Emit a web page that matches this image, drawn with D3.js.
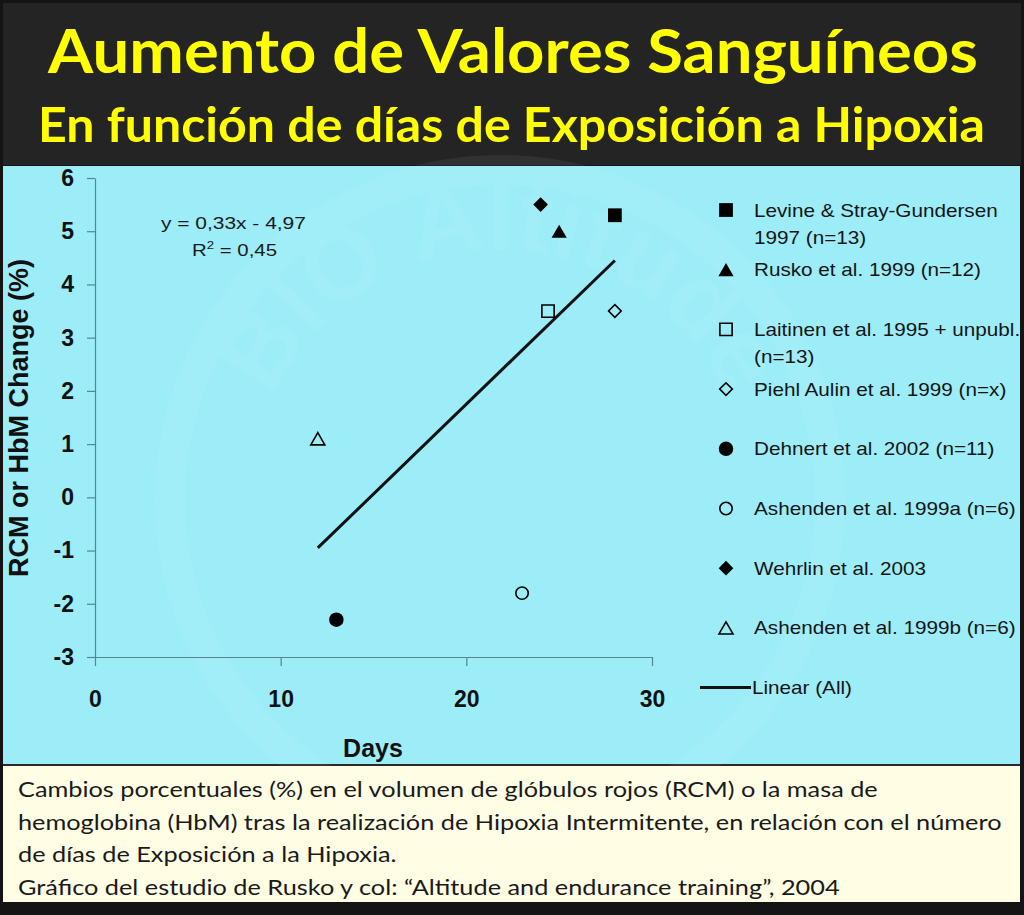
<!DOCTYPE html>
<html><head><meta charset="utf-8">
<script src="https://cdn.jsdelivr.net/npm/d3@7"></script>
<style>body{margin:0;background:#111}svg{display:block}</style>
</head><body><svg id="c" width="1024" height="915"></svg>
<script>
// ---------- data ----------
const titleLines = ["Aumento de Valores Sanguíneos", "En función de días de Exposición a Hipoxia"];
const captionLines = [
  "Cambios porcentuales (%) en el volumen de glóbulos rojos (RCM) o la masa de",
  "hemoglobina (HbM) tras la realización de Hipoxia Intermitente, en relación con el número",
  "de días de Exposición a la Hipoxia.",
  "Gráfico del estudio de Rusko y col: “Altitude and endurance training”, 2004"
];
const studyLabels = [
  ["Levine & Stray-Gundersen", "1997 (n=13)"],
  ["Rusko et al. 1999 (n=12)"],
  ["Laitinen et al. 1995 + unpubl.", "(n=13)"],
  ["Piehl Aulin et al. 1999 (n=x)"],
  ["Dehnert et al. 2002 (n=11)"],
  ["Ashenden et al. 1999a (n=6)"],
  ["Wehrlin et al. 2003"],
  ["Ashenden et al. 1999b (n=6)"]
];
const days   = [28, 25, 24.4, 28, 13, 23, 24, 12];
const change = [5.3, 5.0, 3.5, 3.5, -2.3, -1.8, 5.5, 1.1];
const markerShape  = ["square", "triangle", "square", "diamond", "circle", "circle", "diamond", "triangle"];
const markerFilled = [true, true, false, false, true, false, true, false];
const trendDays   = [12, 28];
const trendChange = [-0.95, 4.45];
const trendLabel = "Linear (All)";
const equationText = "y = 0,33x - 4,97";
const r2Value = "0,45";
const xTicks = [0, 10, 20, 30];
const yTicks = [-3, -2, -1, 0, 1, 2, 3, 4, 5, 6];
const xTitle = "Days";
const yTitle = "RCM or HbM Change (%)";

// ---------- layout ----------
const svg = d3.select("#c");
const W = 1024, H = 915;
svg.append("rect").attr("width", W).attr("height", H).attr("fill", "#141414");
svg.append("rect").attr("x", 3).attr("y", 3).attr("width", W - 6).attr("height", 162).attr("fill", "#242424");
svg.append("rect").attr("x", 3).attr("y", 166).attr("width", 1017).attr("height", 598).attr("fill", "#9cedf8");
svg.append("rect").attr("x", 3).attr("y", 766).attr("width", 1017).attr("height", 136).attr("fill", "#fffde4");
svg.append("line").attr("x1", 3).attr("x2", 1020).attr("y1", 765).attr("y2", 765).attr("stroke", "#2a2a2a").attr("stroke-width", 2);

// faint watermark
const wm = svg.append("g").attr("opacity", 0.06);
wm.append("circle").attr("cx", 500).attr("cy", 500).attr("r", 330).attr("fill", "none").attr("stroke", "#fff").attr("stroke-width", 30);
wm.append("path").attr("id", "wmArc").attr("fill", "none")
  .attr("d", d3.arc()({innerRadius: 250, outerRadius: 250, startAngle: -Math.PI * 0.6, endAngle: Math.PI * 0.6}).split("L")[0])
  .attr("transform", "translate(500,500)");
wm.append("text").attr("font-family", "Liberation Sans, Arial, sans-serif").attr("font-weight", "bold").attr("font-size", 100).attr("fill", "#fff")
  .append("textPath").attr("href", "#wmArc").attr("startOffset", "25%").attr("text-anchor", "middle").text("BIO Altitude");

function fitText(g, str, x0, baseline, width, attrs) {
  const t = g.append("text").attr("x", 0).attr("y", 0).text(str);
  for (const k in attrs) t.attr(k, attrs[k]);
  const len = t.node().getComputedTextLength();
  t.attr("transform", `translate(${x0},${baseline}) scale(${width / len},1)`);
  return len;
}

// title
const titleAttrs1 = {"font-family": "Lato, 'Open Sans', sans-serif", "font-weight": "bold", "font-size": 61, "fill": "#ffff00"};
const titleAttrs2 = {"font-family": "Lato, 'Open Sans', sans-serif", "font-weight": "bold", "font-size": 47, "fill": "#ffff00"};
fitText(svg, titleLines[0], 48, 73, 930, titleAttrs1);
fitText(svg, titleLines[1], 38, 142, 947, titleAttrs2);

// caption
const capAttrs = {"font-family": "Lato, 'Open Sans', sans-serif", "font-size": 22, "fill": "#1a1a1a"};
const probe = svg.append("text").attr("font-family", capAttrs["font-family"]).attr("font-size", capAttrs["font-size"]).text(captionLines[1]);
const capScale = 984 / probe.node().getComputedTextLength();
probe.remove();
captionLines.forEach((s, i) => {
  const t = svg.append("text").text(s);
  for (const k in capAttrs) t.attr(k, capAttrs[k]);
  t.attr("transform", `translate(18,${797 + i * 32.5}) scale(${capScale},1)`);
});

// ---------- chart ----------
const x = d3.scaleLinear().domain([0, 30]).range([95, 652]);
const y = d3.scaleLinear().domain([-3, 6]).range([657, 178]);
const axisColor = "#56858f";
const plainFmt = d => String(d);

const gy = svg.append("g").attr("transform", `translate(${x(0)},0)`)
  .call(d3.axisLeft(y).tickValues(yTicks).tickFormat(plainFmt).tickSize(8).tickSizeOuter(0).tickPadding(13));
const gx = svg.append("g").attr("transform", `translate(0,${y(-3)})`)
  .call(d3.axisBottom(x).tickValues(xTicks).tickFormat(plainFmt).tickSize(9).tickSizeOuter(0).tickPadding(25));
[gx, gy].forEach(g => {
  g.selectAll("path,line").attr("stroke", axisColor).attr("stroke-width", 1.2);
  g.selectAll("text").attr("font-family", "Liberation Sans, Arial, sans-serif").attr("font-weight", "bold")
    .attr("font-size", 23).attr("fill", "#111");
});

svg.append("text").attr("x", 373).attr("y", 757).attr("text-anchor", "middle")
  .attr("font-family", "Liberation Sans, Arial, sans-serif").attr("font-weight", "bold").attr("font-size", 25).attr("fill", "#111")
  .text(xTitle);
svg.append("text").attr("transform", "translate(28,418) rotate(-90)").attr("text-anchor", "middle")
  .attr("font-family", "Liberation Sans, Arial, sans-serif").attr("font-weight", "bold").attr("font-size", 27).attr("fill", "#111")
  .text(yTitle);

// equation
const eqAttrs = {"font-family": "Liberation Sans, Arial, sans-serif", "font-size": 17, "fill": "#1a1a1a"};
fitText(svg, equationText, 161, 229, 145, eqAttrs);
const r2 = svg.append("text").attr("transform", "translate(192,256) scale(1.2,1)");
for (const k in eqAttrs) r2.attr(k, eqAttrs[k]);
r2.append("tspan").text("R");
r2.append("tspan").attr("font-size", 11).attr("dy", -7).text("2");
r2.append("tspan").attr("dy", 7).text(" = " + r2Value);

// trend line
svg.append("line")
  .attr("x1", x(trendDays[0])).attr("y1", y(trendChange[0]))
  .attr("x2", x(trendDays[1])).attr("y2", y(trendChange[1]))
  .attr("stroke", "#111").attr("stroke-width", 3);

// markers
function markerPath(shape, filled, scale) {
  const s = scale || 1;
  if (shape === "square") return {d: d3.symbol(d3.symbolSquare, (filled ? 190 : 150) * s)(), rot: 0, dy: 0};
  if (shape === "diamond") return {d: d3.symbol(d3.symbolSquare, (filled ? 108 : 80) * s)(), rot: 45, dy: 0};
  if (shape === "circle") return {d: d3.symbol(d3.symbolCircle, (filled ? 165 : 120) * s)(), rot: 0, dy: 0};
  const size = (filled ? 100 : 85) * s;
  const h = Math.sqrt(size / (Math.sqrt(3) * 3));
  return {d: d3.symbol(d3.symbolTriangle, size)(), rot: 0, dy: h / 2};
}
function drawMarker(g, i, cx, cy, scale) {
  const m = markerPath(markerShape[i], markerFilled[i], scale);
  g.append("path").attr("d", m.d)
    .attr("transform", `translate(${cx},${cy + m.dy}) rotate(${m.rot})`)
    .attr("fill", markerFilled[i] ? "#000" : "none")
    .attr("stroke", "#000").attr("stroke-width", markerFilled[i] ? 0 : 1.6);
}
const pts = svg.append("g");
days.forEach((d, i) => drawMarker(pts, i, x(d), y(change[i])));

// legend
const lg = svg.append("g");
const legAttrs = {"font-family": "Liberation Sans, Arial, sans-serif", "font-size": 18, "fill": "#151515"};
studyLabels.forEach((lines, i) => {
  const cy = 210 + i * 59.7;
  drawMarker(lg, i, 726, cy);
  lines.forEach((s, j) => {
    const t = lg.append("text").text(s).attr("transform", `translate(754,${cy + 6.5 + j * 27}) scale(1.15,1)`);
    for (const k in legAttrs) t.attr(k, legAttrs[k]);
  });
});
const ly = 210 + 8 * 59.7;
lg.append("line").attr("x1", 700).attr("x2", 751).attr("y1", ly).attr("y2", ly).attr("stroke", "#111").attr("stroke-width", 3);
const lt = lg.append("text").text(trendLabel).attr("transform", `translate(752,${ly + 6.5}) scale(1.15,1)`);
for (const k in legAttrs) lt.attr(k, legAttrs[k]);
</script></body></html>
